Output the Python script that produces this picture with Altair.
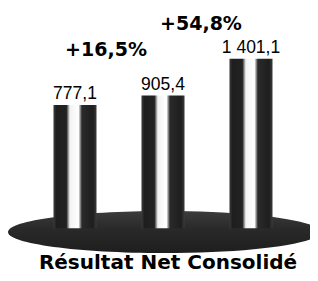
import altair as alt
import pandas as pd

# ---- data ----
categories = ["N-2", "N-1", "N"]
values = [777.1, 905.4, 1401.1]
value_labels = ["777,1", "905,4", "1 401,1"]
growth_from = ["N-1", "N"]          # growth shown leading into these years
growth_values = [905.4, 1401.1]
growth_labels = ["+16,5%", "+54,8%"]
title_text = "Résultat Net Consolidé"
bar_base = -880                      # hidden baseline (bars sink into the disc)

bars_df = pd.DataFrame({"cat": categories, "val": values, "lab": value_labels})
growth_df = pd.DataFrame({"cat": growth_from, "val": growth_values, "lab": growth_labels})
one_df = pd.DataFrame({"k": [0]})

x_scale = alt.Scale(domain=categories, range=[45.5, 264.5], paddingInner=0.511, paddingOuter=0)
y_scale = alt.Scale(domain=[-1482, 2084], zero=False, nice=False)
X = alt.X("cat:N", scale=x_scale, axis=None, sort=categories)
Y = alt.Y("val:Q", scale=y_scale, axis=None)

bar_grad = alt.Gradient(
    gradient="linear", x1=0, x2=1, y1=0, y2=0,
    stops=[
        alt.GradientStop(offset=0.0, color="#3a3a3a"),
        alt.GradientStop(offset=0.07, color="#1e1e1e"),
        alt.GradientStop(offset=0.30, color="#222222"),
        alt.GradientStop(offset=0.38, color="#f2f2f2"),
        alt.GradientStop(offset=0.58, color="#ffffff"),
        alt.GradientStop(offset=0.66, color="#2a2a2a"),
        alt.GradientStop(offset=0.92, color="#1e1e1e"),
        alt.GradientStop(offset=1.0, color="#3a3a3a"),
    ],
)

ell_grad = alt.Gradient(
    gradient="linear", x1=0, x2=0, y1=0, y2=1,
    stops=[
        alt.GradientStop(offset=0.0, color="#3c3c3c"),
        alt.GradientStop(offset=0.4, color="#2a2a2a"),
        alt.GradientStop(offset=1.0, color="#1e1e1e"),
    ],
)

ellipse_path = (
    "M-1,0 C-1,-0.0746 -0.5523,-0.135 0,-0.135 "
    "C0.5523,-0.135 1,-0.0746 1,0 "
    "C1,0.0746 0.5523,0.135 0,0.135 "
    "C-0.5523,0.135 -1,0.0746 -1,0 Z"
)

base_ellipse = alt.Chart(one_df).mark_point(
    shape=ellipse_path, filled=True, fill=ell_grad, opacity=1, size=97344, strokeWidth=0
).encode(x=alt.value(156), y=alt.value(224))

bars = alt.Chart(bars_df).mark_bar(fill=bar_grad).encode(
    x=X, y=Y, y2=alt.datum(bar_base)
)

labels = alt.Chart(bars_df).mark_text(
    font="Liberation Sans", fontSize=17.5, color="#000", baseline="alphabetic", dy=-6
).encode(x=X, y=Y, text="lab:N")

g1 = alt.Chart(growth_df.iloc[[0]]).mark_text(
    font="DejaVu Sans", fontWeight="bold", fontSize=19, color="#000",
    baseline="alphabetic", dx=-57, dy=-40
).encode(x=X, y=Y, text="lab:N")

g2 = alt.Chart(growth_df.iloc[[1]]).mark_text(
    font="DejaVu Sans", fontWeight="bold", fontSize=19, color="#000",
    baseline="alphabetic", dx=-50, dy=-29
).encode(x=X, y=Y, text="lab:N")

title = alt.Chart(one_df).mark_text(
    text=title_text, font="DejaVu Sans", fontWeight="bold", fontSize=20,
    color="#000", baseline="alphabetic", align="center"
).encode(x=alt.value(160), y=alt.value(261))

chart = alt.layer(base_ellipse, bars, labels, g1, g2, title).properties(
    width=302, height=265,
    autosize=alt.AutoSizeParams(type="none"),
    padding=0,
    background="white",
).configure_view(stroke=None)

chart.save("out.html", embed_options={"renderer": "svg", "actions": False})
